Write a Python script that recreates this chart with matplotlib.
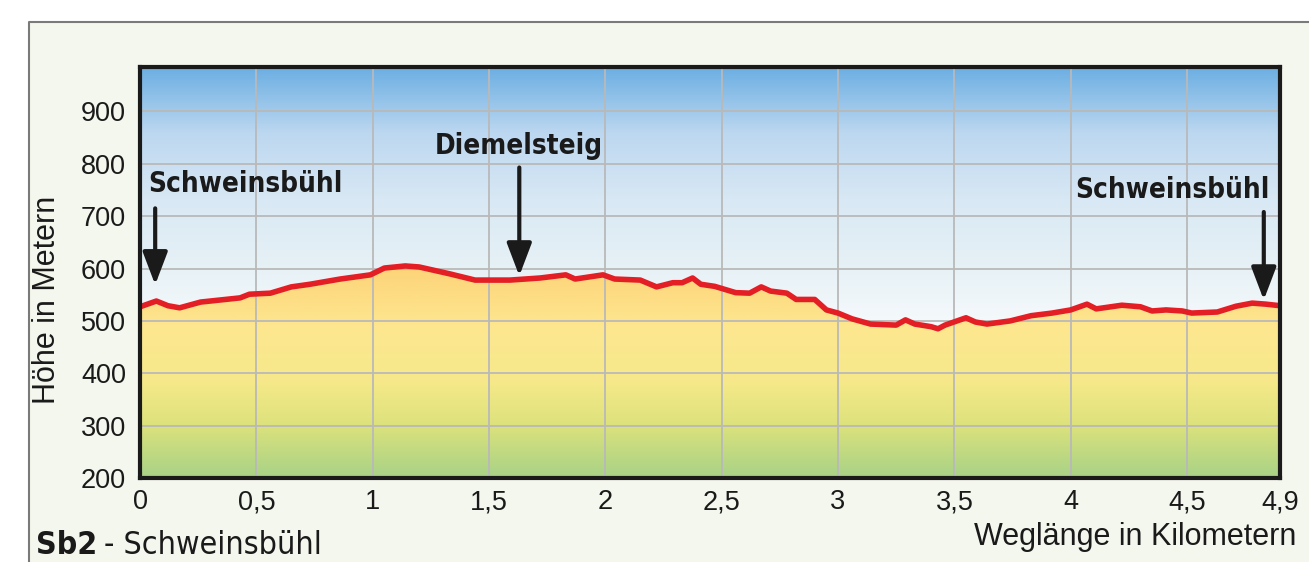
import numpy as np
import matplotlib.pyplot as plt
from matplotlib.colors import LinearSegmentedColormap
from matplotlib.lines import Line2D
from matplotlib.patches import Rectangle

# Höhenprofil (km, m)
dist = [0.00, 0.07, 0.12, 0.17, 0.26, 0.43, 0.47, 0.56, 0.65, 0.73, 0.86, 0.99,
        1.05, 1.14, 1.20, 1.33, 1.44, 1.59, 1.72, 1.83, 1.87, 1.93, 1.99, 2.04,
        2.15, 2.22, 2.29, 2.33, 2.375, 2.41, 2.47, 2.56, 2.62, 2.67, 2.71, 2.78,
        2.82, 2.90, 2.95, 3.00, 3.06, 3.14, 3.25, 3.29, 3.33, 3.40, 3.43, 3.46,
        3.55, 3.59, 3.64, 3.74, 3.83, 3.92, 4.00, 4.07, 4.11, 4.22, 4.30, 4.35,
        4.41, 4.48, 4.52, 4.63, 4.71, 4.78, 4.84, 4.90]
elev = [527, 538, 529, 525, 536, 544, 551, 553, 565, 570, 580, 588,
        601, 605, 603, 590, 578, 578, 582, 588, 580, 584, 588, 580,
        578, 565, 573, 573, 582, 570, 566, 554, 553, 565, 557, 553,
        541, 541, 521, 515, 504, 494, 492, 502, 494, 489, 485, 492,
        506, 498, 494, 500, 510, 515, 521, 532, 523, 530, 527, 519,
        521, 519, 515, 517, 528, 534, 532, 529]

xticks = [0, 0.5, 1, 1.5, 2, 2.5, 3, 3.5, 4, 4.5, 4.9]
xticklabels = ['0', '0,5', '1', '1,5', '2', '2,5', '3', '3,5', '4', '4,5', '4,9']
yticks = [200, 300, 400, 500, 600, 700, 800, 900]

# Wegpunkte: (Name, km, Pfeil oben, Pfeil unten, Text-y, Ausrichtung)
points = [('Schweinsbühl', 0.065, 715, 569, 761, 'left'),
          ('Diemelsteig', 1.63, 793, 586, 835, 'center'),
          ('Schweinsbühl', 4.83, 708, 540, 750, 'right')]

font = ['Liberation Sans', 'DejaVu Sans']
narrow = dict(family='DejaVu Sans', fontstretch='condensed')
ink = '#1a1a1a'

fig = plt.figure(figsize=(13.09, 5.62), dpi=100, facecolor='white')
fig.patches.append(Rectangle((0.0222, 0), 1, 0.961, transform=fig.transFigure,
                             facecolor='#f4f7ee', edgecolor='none', zorder=-5))
fig.lines.append(Line2D([0.0222, 0.0222, 1.0], [0.0, 0.961, 0.961],
                        transform=fig.transFigure, color='#7a7a7a', lw=1.5,
                        zorder=-4))

ax = fig.add_axes([0.107, 0.1495, 0.8709, 0.7313])
ax.set_zorder(1)
ymax = 985

# Himmel
sky = LinearSegmentedColormap.from_list('sky', [
    (0.0, '#f7fafc'), (0.25, '#e6f1f6'), (0.5, '#d8e8f4'),
    (0.75, '#bcd7f0'), (1.0, '#6aaee2')])
ax.imshow(np.linspace(0, 1, 256)[::-1].reshape(-1, 1), cmap=sky, aspect='auto',
          extent=[0, 4.9, 480, ymax], zorder=0)
ax.axhspan(200, 480, color='#f7fafc', zorder=0)

# Gelände
ground = LinearSegmentedColormap.from_list('ground', [
    (0.0, '#a8d287'), (0.25, '#dde27c'), (0.45, '#f6e98a'),
    (0.7, '#fde790'), (1.0, '#fdd277')])
img = ax.imshow(np.linspace(0, 1, 256)[::-1].reshape(-1, 1), cmap=ground,
                aspect='auto', extent=[0, 4.9, 200, 610], zorder=1)
poly = ax.fill_between(dist, elev, 200, color='none', lw=0)
img.set_clip_path(poly.get_paths()[0], transform=ax.transData)
ax.set_xlim(0, 4.9)
ax.set_ylim(200, ymax)

ax.grid(True, color='#b9b9b9', lw=1.3)
for gl in ax.get_xgridlines() + ax.get_ygridlines():
    gl.set_zorder(2)

ax.plot(dist, elev, color='#e31e24', lw=4, solid_joinstyle='round', zorder=3)

for name, km, top, tip, ty, ha in points:
    ax.annotate('', xy=(km, tip), xytext=(km, top),
                arrowprops=dict(arrowstyle='-|>,head_length=1.0,head_width=0.38',
                                mutation_scale=20, color=ink, lw=3,
                                shrinkA=0, shrinkB=0),
                zorder=4)
    tx = km - 0.03 if ha == 'left' else (km + 0.025 if ha == 'right' else km)
    ax.text(tx, ty, name, ha=ha, va='center', fontsize=20, fontweight='bold',
            color=ink, zorder=4, **narrow)

ax.set_xticks(xticks)
ax.set_xticklabels(xticklabels, family=font, fontsize=19.5, color=ink)
ax.set_yticks(yticks)
ax.set_yticklabels([str(v) for v in yticks], family=font, fontsize=19.5, color=ink)
ax.tick_params(length=0, pad=8)
ax.tick_params(axis='y', pad=10)

for s in ax.spines.values():
    s.set_linewidth(3)
    s.set_color(ink)
    s.set_zorder(5)

fig.text(0.036, 0.466, 'Höhe in Metern', rotation=90, va='center', ha='center',
         fontsize=22, family=font, color=ink)
fig.text(0.9905, 0.044, 'Weglänge in Kilometern', ha='right', va='center',
         fontsize=22, family=font, color=ink)
t1 = fig.text(0.0275, 0.03, 'Sb2', ha='left', va='center', fontsize=23,
              fontweight='bold', color=ink, **narrow)
ax.annotate('- Schweinsbühl', xy=(1, 0.5), xycoords=t1, xytext=(5, 0),
            textcoords='offset points', ha='left', va='center', fontsize=23,
            color=ink, annotation_clip=False, **narrow)

fig.savefig('out.png', dpi=100, facecolor=fig.get_facecolor())
